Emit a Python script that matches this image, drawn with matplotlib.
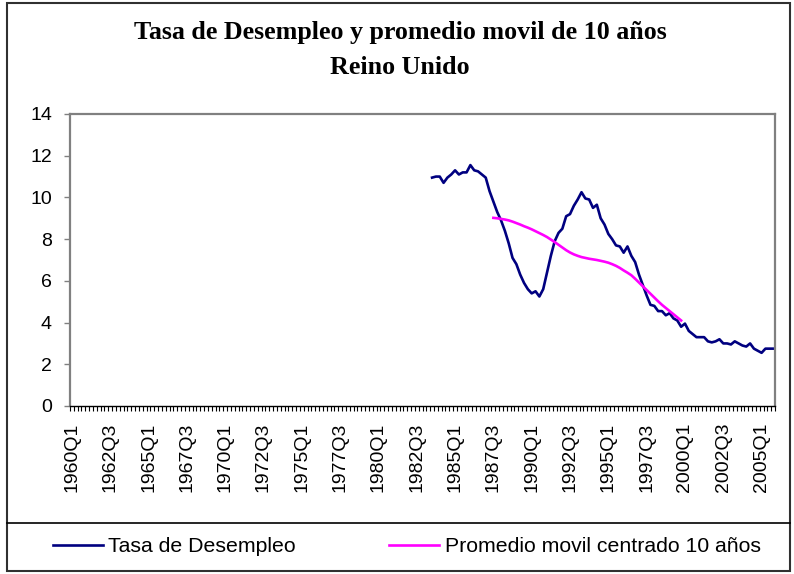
"""
plot.py - Tasa de Desempleo Reino Unido with 10-year centred moving average
"""
import numpy as np
import matplotlib
matplotlib.use("Agg")
import matplotlib.pyplot as plt
from matplotlib.patches import Rectangle
from matplotlib.lines import Line2D

# quarterly categories 1960Q1 .. 2005Q4
years = list(range(1960, 2006))
quarters = [f"{y}Q{q}" for y in years for q in range(1, 5)]

# unemployment rate, 1983Q3 .. 2005Q4
desempleo_start = "1983Q3"
desempleo = [10.95, 11.0, 11.0, 10.7, 10.95, 11.1, 11.3, 11.1, 11.2, 11.2,
             11.55, 11.3, 11.25, 11.1, 10.95, 10.3, 9.8, 9.3, 8.9, 8.4,
             7.8, 7.1, 6.8, 6.3, 5.9, 5.6, 5.4, 5.5, 5.25, 5.6,
             6.4, 7.2, 7.9, 8.3, 8.5, 9.1, 9.2, 9.6, 9.9, 10.25,
             9.95, 9.9, 9.5, 9.65, 9.0, 8.7, 8.25, 8.0, 7.7, 7.65,
             7.35, 7.65, 7.2, 6.9, 6.3, 5.8, 5.3, 4.85, 4.8, 4.55,
             4.55, 4.35, 4.45, 4.2, 4.1, 3.8, 3.95, 3.6, 3.45, 3.3,
             3.3, 3.3, 3.1, 3.05, 3.1, 3.2, 3.0, 3.0, 2.95, 3.1,
             3.0, 2.9, 2.85, 3.0, 2.75, 2.65, 2.55, 2.75, 2.75, 2.75]

# centred 10-year moving average, 1987Q3 .. 1999Q4
promedio_start = "1987Q3"
promedio = [9.02, 9.0, 8.97, 8.94, 8.9, 8.84, 8.77, 8.7, 8.62, 8.55,
            8.47, 8.38, 8.29, 8.2, 8.1, 7.98, 7.86, 7.73, 7.6, 7.47,
            7.36, 7.27, 7.2, 7.14, 7.1, 7.06, 7.03, 7.0, 6.96, 6.92,
            6.87, 6.8, 6.72, 6.62, 6.5, 6.39, 6.27, 6.1, 5.92, 5.74,
            5.56, 5.38, 5.2, 5.02, 4.85, 4.7, 4.55, 4.4, 4.25, 4.1]

W, H = 794, 574
fig = plt.figure(figsize=(W / 100, H / 100), dpi=100)
ax = fig.add_axes([70 / W, 1 - 406 / H, 705 / W, 292 / H])

n = len(quarters)
i0 = quarters.index(desempleo_start)
x1 = np.arange(i0, i0 + len(desempleo)) + 0.5
i1 = quarters.index(promedio_start)
x2 = np.arange(i1, i1 + len(promedio)) + 0.5

l1, = ax.plot(x1, desempleo, color="#000080", lw=1.9, solid_joinstyle="round")
l2, = ax.plot(x2, promedio, color="#FF00FF", lw=1.9)

ax.set_xlim(0, n)
ax.set_ylim(0, 14)
ax.set_yticks(range(0, 15, 2))
ax.set_xticks(np.arange(0, n, 10) + 0.5)
ax.set_xticklabels(quarters[::10], rotation=90, family="Liberation Sans", fontsize=14)
ax.set_xticks(np.arange(0, n + 1), minor=True)
for lab in ax.get_yticklabels():
    lab.set_family("Liberation Sans")
    lab.set_fontsize(14)

ax.tick_params(axis="x", which="major", length=0, pad=12)
ax.tick_params(axis="x", which="minor", length=3.5, width=0.8, color="black")
ax.tick_params(axis="y", length=4, width=1, color="#808080", pad=9)

for s in ["left", "top", "right"]:
    ax.spines[s].set_color("#808080")
    ax.spines[s].set_linewidth(1.6)
ax.spines["bottom"].set_color("black")
ax.spines["bottom"].set_linewidth(1.0)

fig.text(400 / W, 1 - 32 / H, "Tasa de Desempleo y promedio movil de 10 años",
         ha="center", va="center", family="Liberation Serif", weight="bold", fontsize=18.7)
fig.text(400 / W, 1 - 67 / H, "Reino Unido",
         ha="center", va="center", family="Liberation Serif", weight="bold", fontsize=18.7)

# separator and frame
fig.add_artist(Line2D([7 / W, 790 / W], [1 - 523 / H, 1 - 523 / H], color="black", lw=1.2))
fig.add_artist(Rectangle((7 / W, 1 - 571 / H), 783 / W, 568 / H, fill=False,
                         edgecolor="#303030", lw=1.5))

fig.legend([l1, l2], ["Tasa de Desempleo", "Promedio movil centrado 10 años"],
           ncol=2, loc="center left", bbox_to_anchor=(53 / W, 1 - 547 / H),
           frameon=False, borderpad=0, borderaxespad=0, handlelength=2.35,
           handletextpad=0.25, columnspacing=4.4,
           prop={"family": "Liberation Sans", "size": 15.3})

fig.savefig("out.png", dpi=100)
